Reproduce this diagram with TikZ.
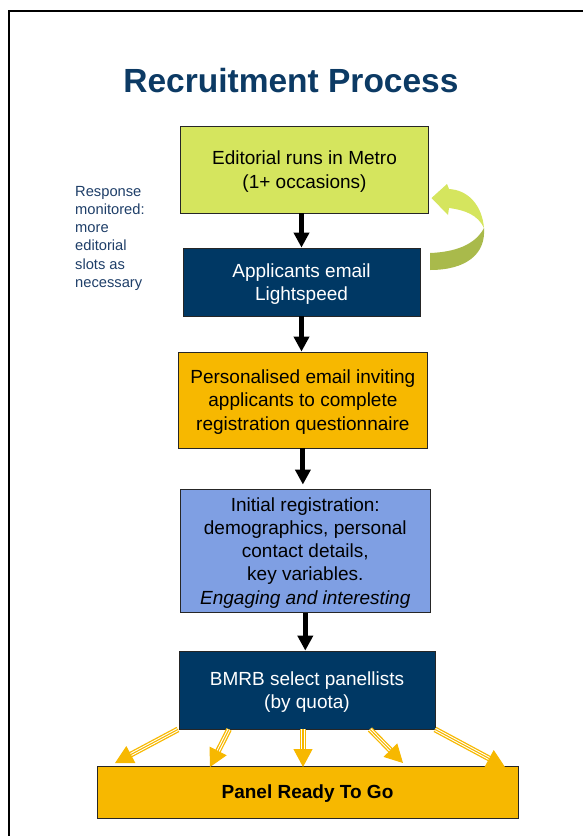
\documentclass[tikz,border=0pt]{standalone}
\usepackage{fontspec}
\setmainfont{Liberation Sans}
\usetikzlibrary{arrows.meta}

\definecolor{navy}{RGB}{0,56,100}
\definecolor{titleblue}{RGB}{12,58,100}
\definecolor{notecol}{RGB}{30,62,104}
\definecolor{lime}{RGB}{213,229,94}
\definecolor{olive}{RGB}{169,186,75}
\definecolor{amber}{RGB}{247,184,0}
\definecolor{lilac}{RGB}{127,159,227}

\begin{document}
\begin{tikzpicture}
  [x=1pt,y=-1pt,
   box/.style={rectangle,draw=black!85,line width=0.8pt,align=center,inner sep=2pt,
               text depth=0pt,font=\fontsize{19}{23.3}\selectfont},
   flow/.style={-{Triangle[width=15pt,length=15pt]},line width=5pt},
   fanshaft/.style={draw=amber,double=white,double distance=3.2pt,line width=1.3pt,shorten >=16pt},
   fanhead/.style={draw=amber,line width=1.1pt,-{Triangle[width=19pt,length=18pt]}}]
\useasboundingbox (0,0) rectangle (583,836);
\draw[line width=1.5pt] (9,860) -- (9,11) -- (600,11); % page frame
\node (title) at (291,81) [font=\bfseries\fontsize{33.5}{40}\selectfont,text=titleblue]
  {Recruitment Process};
% the steps
\node (editorial) at (304.5,169.5) [box,fill=lime,minimum width=247.6pt,minimum height=87pt]
  {Editorial runs in Metro\\(1+ occasions)};
\node (applicants) at (301.5,282) [box,fill=navy,text=white,minimum width=237pt,minimum height=68pt]
  {Applicants email\\Lightspeed};
\node (personalised) at (302.9,400) [box,fill=amber,minimum width=249.7pt,minimum height=96pt]
  {Personalised email inviting\\applicants to complete\\registration questionnaire};
\node (initial) at (305.3,550.8) [box,fill=lilac,minimum width=250.7pt,minimum height=123.7pt]
  {Initial registration:\\demographics, personal\\contact details,\\key variables.\\\textit{Engaging and interesting}};
\node (bmrb) at (307,690) [box,fill=navy,text=white,minimum width=256pt,minimum height=78pt]
  {BMRB select panellists\\(by quota)};
\node (panel) at (307.5,792) [box,fill=amber,minimum width=421pt,minimum height=52pt,
  font=\bfseries\fontsize{19}{23}\selectfont]
  {Panel Ready To Go};
\node (note) at (75,186) [anchor=north west,inner sep=0pt,align=left,text=notecol,
  font=\fontsize{14.7}{18.2}\selectfont]
  {Response\\monitored:\\more\\editorial\\slots as\\necessary};
%
\draw[flow] (applicants.north |- editorial.south) -- (applicants.north);
\draw[flow] (applicants.south) -- (applicants.south |- personalised.north);
\draw[flow,shorten >=4pt] (personalised.south) -- (personalised.south |- initial.north);
\draw[flow] (initial.south) -- (initial.south |- bmrb.north);
%
% loop back arrow, two tone ribbon
\fill[olive] (484,228) .. controls (486,255) and (465,270) .. (430,270)
  -- (430,253) .. controls (455,252) and (475,245) .. (484,228) -- cycle;
\fill[lime] (484,228) .. controls (482,205) and (468,190) .. (449,189)
  -- (447,184) -- (431.5,198) -- (448,215) -- (449,208)
  .. controls (465,210) and (478,215) .. (484,228) -- cycle;
%
% fan out into the panel
\foreach \sx/\tx/\ty [count=\i] in {178/115/763,229/210/767,303/303/767,370/403/763,435/505/767} {
  \coordinate (x\i) at (\sx,0);
  \coordinate (t\i) at (\tx,\ty);
  \draw[fanshaft] (bmrb.south -| x\i) -- (t\i);
  \draw[fanhead] (bmrb.south -| x\i) -- (t\i);
}
\end{tikzpicture}
\end{document}
